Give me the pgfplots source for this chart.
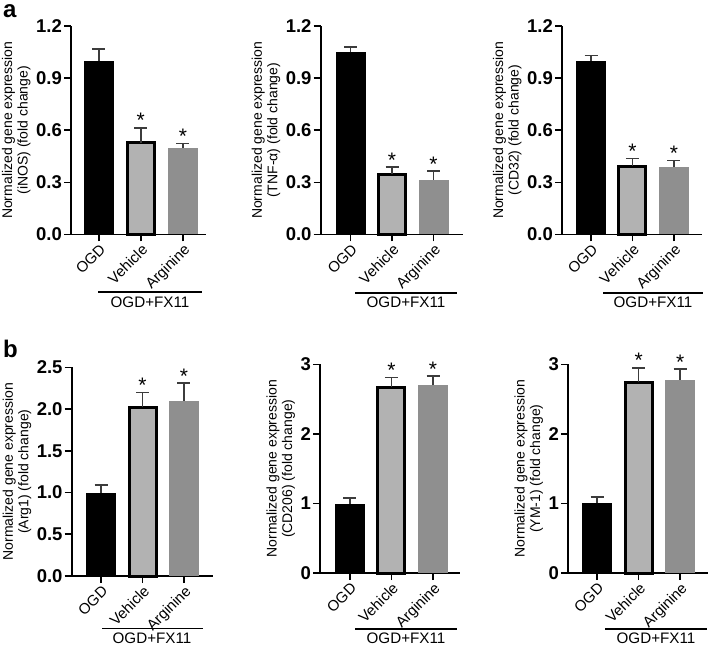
\documentclass[border=0pt]{standalone}
\usepackage{pgfplots}
\pgfplotsset{compat=1.18}
\usepackage{fontspec}
\setmainfont{Liberation Sans}
\definecolor{vehgray}{RGB}{178,178,178}
\definecolor{arggray}{RGB}{143,143,143}
\definecolor{errgray}{RGB}{60,60,60}
\pgfplotsset{
  panel/.style={
    scale only axis, anchor=south west, clip=false,
    axis lines=left, axis line style={line width=1.6pt,-},
    ymin=0,
    xtick={0,1,2}, xticklabels={OGD,Vehicle,Arginine},
    xticklabel style={rotate=45, anchor=north east, inner sep=1pt, font=\fontsize{15}{17}\selectfont},
    yticklabel style={font=\fontsize{18.5}{19}\selectfont\bfseries, inner sep=2pt},
    /pgf/number format/assume math mode=true,
    major tick length=7pt, tick align=outside, tick style={line width=1.6pt, black},
    ylabel style={font=\fontsize{14}{15.5}\selectfont, align=center},
    error bars/y dir=plus, error bars/y explicit,
    error bars/error bar style={line width=1.5pt, errgray},
    error bars/error mark options={rotate=90, mark size=6.5pt, line width=1.5pt, errgray},
  },
  onedec/.style={yticklabel style={/pgf/number format/.cd, fixed, fixed zerofill, precision=1}},
  ogd/.style={ybar, bar width=30pt, bar shift=0pt, fill=black, draw=none},
  veh/.style={ybar, bar width=27pt, bar shift=0pt, fill=vehgray, draw=black, line width=3pt},
  arg/.style={ybar, bar width=30pt, bar shift=0pt, fill=arggray, draw=none},
  star/.style={only marks, mark=text, text mark={*}, text mark as node=true,
    text mark style={font=\fontsize{21}{21}\selectfont, anchor=base, inner sep=0pt, black}},
}
\begin{document}
\begin{tikzpicture}[x=1pt,y=1pt]
\path[use as bounding box] (0,0) rectangle (709,646);
% ---- row a ----
\begin{axis}[panel, at={(71pt,411.5pt)}, width=135pt, height=208.5pt, xmin=-0.66, xmax=2.55,
  ymax=1.2, ytick={0,0.3,0.6,0.9,1.2}, onedec,
  ylabel={Normalized gene expression\\(iNOS) (fold change)}]
\addplot[ogd] coordinates {(0,1.00) +- (0,0.067)};
\addplot[veh] coordinates {(1,0.527) +- (0,0.086)};
\addplot[arg] coordinates {(2,0.50) +- (0,0.023)};
\addplot[star] coordinates {(1,0.613) (2,0.523)};
\end{axis}
\begin{axis}[panel, at={(320.7pt,411.5pt)}, width=142.3pt, height=208.5pt, xmin=-0.72, xmax=2.71,
  ymax=1.2, ytick={0,0.3,0.6,0.9,1.2}, onedec,
  ylabel={Normalized gene expression\\(TNF-α) (fold change)}]
\addplot[ogd] coordinates {(0,1.048) +- (0,0.032)};
\addplot[veh] coordinates {(1,0.346) +- (0,0.042)};
\addplot[arg] coordinates {(2,0.315) +- (0,0.05)};
\addplot[star] coordinates {(1,0.388) (2,0.365)};
\end{axis}
\begin{axis}[panel, at={(562pt,411.5pt)}, width=140pt, height=208.5pt, xmin=-0.70, xmax=2.68,
  ymax=1.2, ytick={0,0.3,0.6,0.9,1.2}, onedec,
  ylabel={Normalized gene expression\\(CD32) (fold change)}]
\addplot[ogd] coordinates {(0,1.00) +- (0,0.03)};
\addplot[veh] coordinates {(1,0.394) +- (0,0.044)};
\addplot[arg] coordinates {(2,0.388) +- (0,0.039)};
\addplot[star] coordinates {(1,0.438) (2,0.427)};
\end{axis}
% ---- row b ----
\begin{axis}[panel, at={(71.7pt,70pt)}, width=141.3pt, height=208.7pt, xmin=-0.71, xmax=2.70,
  ymax=2.5, ytick={0,0.5,1,1.5,2,2.5}, onedec,
  ylabel={Normalized gene expression\\(Arg1) (fold change)}]
\addplot[ogd] coordinates {(0,1.00) +- (0,0.09)};
\addplot[veh] coordinates {(1,2.02) +- (0,0.18)};
\addplot[arg] coordinates {(2,2.10) +- (0,0.21)};
\addplot[star] coordinates {(1,2.20) (2,2.31)};
\end{axis}
\begin{axis}[panel, at={(320pt,73pt)}, width=140pt, height=208.7pt, xmin=-0.72, xmax=2.65,
  ymax=3, ytick={0,1,2,3},
  ylabel={Normalized gene expression\\(CD206) (fold change)}]
\addplot[ogd] coordinates {(0,0.99) +- (0,0.09)};
\addplot[veh] coordinates {(1,2.67) +- (0,0.14)};
\addplot[arg] coordinates {(2,2.70) +- (0,0.13)};
\addplot[star] coordinates {(1,2.81) (2,2.83)};
\end{axis}
\begin{axis}[panel, at={(568pt,73pt)}, width=140pt, height=208.7pt, xmin=-0.70, xmax=2.67,
  ymax=3, ytick={0,1,2,3},
  ylabel={Normalized gene expression\\(YM-1) (fold change)}]
\addplot[ogd] coordinates {(0,1.00) +- (0,0.09)};
\addplot[veh] coordinates {(1,2.74) +- (0,0.21)};
\addplot[arg] coordinates {(2,2.78) +- (0,0.15)};
\addplot[star] coordinates {(1,2.95) (2,2.93)};
\end{axis}
% ---- group brackets ----
\begin{scope}[line width=1.3pt]
\draw (98,354) -- (202,354);
\draw (355,353) -- (457,353);
\draw (603,353) -- (703,353);
\draw (102,17.5) -- (203,17.5);
\draw (355,17) -- (457,17);
\draw (605,17) -- (707,17);
\end{scope}
\begin{scope}[every node/.style={font=\fontsize{15.2}{17}\selectfont, anchor=base, inner sep=0pt}]
\node at (150,338.5) {OGD+FX11};
\node at (406,338.5) {OGD+FX11};
\node at (653,338.5) {OGD+FX11};
\node at (152,3) {OGD+FX11};
\node at (406,3) {OGD+FX11};
\node at (656,3) {OGD+FX11};
\end{scope}
\node[font=\fontsize{24}{24}\selectfont\bfseries, anchor=base west, inner sep=0pt] at (3,628) {a};
\node[font=\fontsize{24}{24}\selectfont\bfseries, anchor=base west, inner sep=0pt] at (3,289) {b};
\end{tikzpicture}
\end{document}
